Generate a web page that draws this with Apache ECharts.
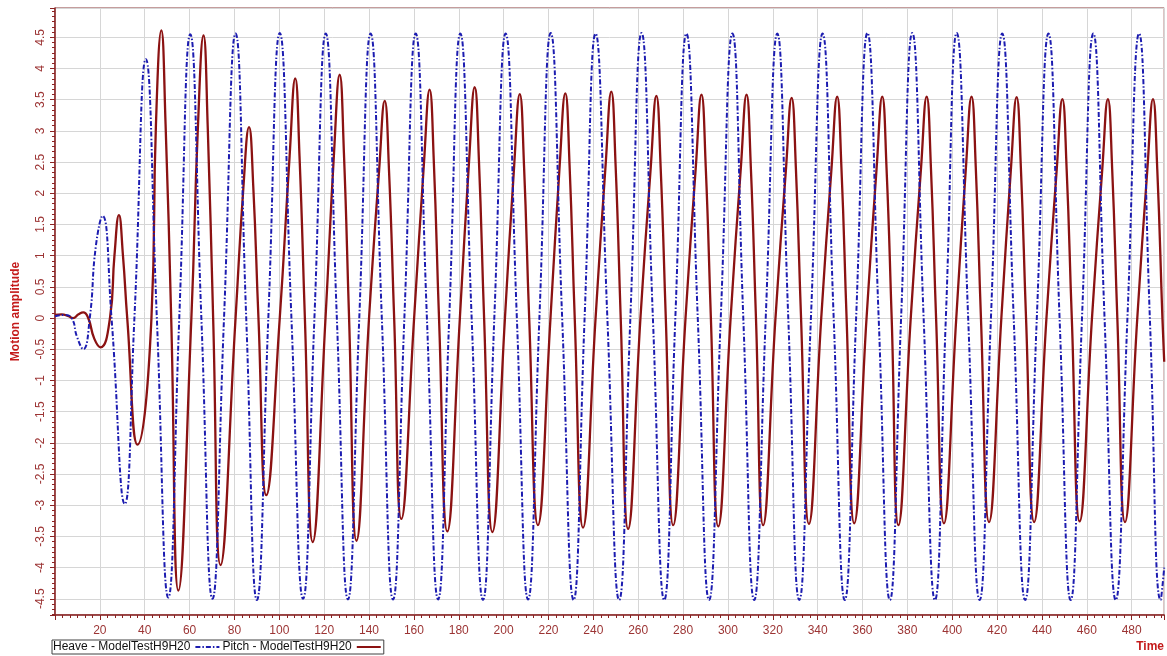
<!DOCTYPE html>
<html>
<head>
<meta charset="utf-8">
<script src="https://cdn.jsdelivr.net/npm/echarts@6/dist/echarts.min.js"></script>
<style>
html,body{margin:0;padding:0;background:#fff;}
#chart{width:1167px;height:656px;}
</style>
</head>
<body>
<div id="chart"></div>
<script>
// Series names
var seriesNames = ['Heave - ModelTestH9H20', 'Pitch - ModelTestH9H20'];

// Heave (blue, dash-dot): [time, amplitude]
var heaveData = [
  [0, 0.03], [4, 0.05], [7.4, 0.0], [9.8, -0.3], [12.6, -0.5], [15.5, 0], [18.2, 1.15], [21.2, 1.64],
  [25.2, 0], [31.1, -2.98], [35.4, 0], [40.5, 4.15], [45.4, 0], [50.5, -4.48], [55.4, 0],
  [60.3, 4.55], [65.25, 0], [70.2, -4.5], [75.35, 0], [80.5, 4.56], [85.25, 0], [90.0, -4.52], [95.1, 0],
  [100.2, 4.57], [105.4, 0], [110.6, -4.5], [115.65, 0], [120.7, 4.56], [125.65, 0], [130.6, -4.51], [135.65, 0],
  [140.7, 4.56], [145.7, 0], [150.7, -4.51], [155.75, 0], [160.8, 4.56], [165.8, 0], [170.8, -4.51], [175.75, 0],
  [180.7, 4.56], [185.75, 0], [190.8, -4.52], [195.85, 0], [200.9, 4.56], [205.9, 0], [210.9, -4.51], [215.95, 0],
  [221.0, 4.57], [226.1, 0], [231.2, -4.52], [236.1, 0], [241.0, 4.56], [246.25, 0], [251.5, -4.52], [256.5, 0],
  [261.5, 4.57], [266.55, 0], [271.6, -4.52], [276.55, 0], [281.5, 4.56], [286.55, 0], [291.6, -4.52], [296.8, 0],
  [302.0, 4.56], [306.85, 0], [311.7, -4.52], [316.85, 0], [322.0, 4.56], [326.9, 0], [331.8, -4.52], [337.0, 0],
  [342.2, 4.56], [347.15, 0], [352.1, -4.52], [357.15, 0], [362.2, 4.57], [367.2, 0], [372.2, -4.52], [377.2, 0],
  [382.2, 4.57], [387.25, 0], [392.3, -4.52], [397.15, 0], [402.0, 4.57], [407.1, 0], [412.2, -4.52], [417.25, 0],
  [422.3, 4.56], [427.4, 0], [432.5, -4.52], [437.7, 0], [442.9, 4.56], [447.85, 0], [452.8, -4.52], [457.85, 0],
  [462.9, 4.56], [467.9, 0], [472.9, -4.52], [478.1, 0], [483.3, 4.56], [488.1, 0], [492.9, -4.52], [494.5, -4.0]
];

// Pitch (dark red, solid): [time, amplitude]
var pitchData = [
  [0, 0.05], [3, 0.06], [6, 0.03], [8, 0.0], [10.5, 0.06], [12.6, 0.09], [14.8, 0.0], [17.5, -0.33],
  [20.3, -0.47], [24.5, 0.0], [26.5, 1.0], [28.5, 1.65], [30.3, 1.0], [32.2, 0.0],
  [36.8, -2.03], [43.0, 0], [45.0, 3.1], [47.4, 4.61], [49.3, 3.1], [51.8, 0], [55.0, -4.37],
  [60.8, 0], [63.7, 3.05], [66.2, 4.53], [68.1, 3.05], [70.5, 0], [73.8, -3.96],
  [80.5, 0], [84.0, 2.1], [86.5, 3.06], [88.4, 2.1], [90.7, 0], [94.2, -2.84], [100.2, 0],
  [104.6, 2.6], [107.1, 3.84], [109.0, 2.6], [111.4, 0], [114.9, -3.59], [120.6, 0],
  [124.4, 2.65], [126.9, 3.9], [128.8, 2.65], [131.1, 0], [134.4, -3.57], [140.0, 0],
  [144.5, 2.37], [147.0, 3.48], [148.9, 2.37], [151.2, 0], [154.4, -3.22], [160.1, 0],
  [164.5, 2.49], [167.0, 3.66], [168.9, 2.49], [171.2, 0], [174.9, -3.42], [180.5, 0],
  [184.6, 2.52], [187.1, 3.70], [189.0, 2.52], [191.3, 0], [195.0, -3.43], [200.6, 0],
  [204.7, 2.44], [207.2, 3.59], [209.1, 2.44], [211.4, 0], [215.3, -3.32], [220.9, 0],
  [225.0, 2.45], [227.5, 3.60], [229.4, 2.45], [231.7, 0], [235.4, -3.36], [241.0, 0],
  [245.5, 2.47], [248.0, 3.63], [249.9, 2.47], [252.2, 0], [255.5, -3.38], [261.0, 0],
  [265.6, 2.42], [268.1, 3.56], [270.0, 2.42], [272.3, 0], [275.6, -3.32], [281.1, 0],
  [285.7, 2.43], [288.2, 3.58], [290.1, 2.43], [292.4, 0], [295.7, -3.34], [301.2, 0],
  [305.8, 2.43], [308.3, 3.58], [310.2, 2.43], [312.5, 0], [315.7, -3.32], [321.2, 0],
  [325.9, 2.40], [328.4, 3.53], [330.3, 2.40], [332.6, 0], [336.1, -3.30], [341.6, 0],
  [346.2, 2.41], [348.7, 3.55], [350.6, 2.41], [352.9, 0], [356.3, -3.29], [361.8, 0],
  [366.3, 2.41], [368.8, 3.55], [370.7, 2.41], [373.0, 0], [376.0, -3.32], [381.5, 0],
  [386.1, 2.41], [388.6, 3.55], [390.5, 2.41], [392.8, 0], [396.3, -3.29], [401.8, 0],
  [406.1, 2.41], [408.6, 3.55], [410.5, 2.41], [412.8, 0], [416.4, -3.27], [421.9, 0],
  [426.2, 2.41], [428.7, 3.54], [430.6, 2.41], [432.9, 0], [436.5, -3.27], [442.0, 0],
  [446.6, 2.39], [449.1, 3.51], [451.0, 2.39], [453.3, 0], [456.8, -3.26], [462.3, 0],
  [466.9, 2.39], [469.4, 3.51], [471.3, 2.39], [473.6, 0], [477.0, -3.27], [482.5, 0],
  [487.0, 2.39], [489.5, 3.51], [491.4, 2.39], [493.7, 0], [494.5, -0.7]
];

var FONT = "'Liberation Sans', Arial, sans-serif";
var axisRed = '#8b2323';
var labelRed = '#9c3434';
var nameRed = '#c41a1a';

var chart = echarts.init(document.getElementById('chart'), null, {renderer: 'canvas'});
chart.setOption({
  animation: false,
  backgroundColor: '#ffffff',
  grid: {
    left: 55, top: 8, right: 2, bottom: 41,
    show: true, borderColor: '#8b3a3a', borderWidth: 1, backgroundColor: '#ffffff'
  },
  legend: {
    data: seriesNames,
    left: 52, top: 640,
    orient: 'horizontal',
    align: 'right',
    itemWidth: 24, itemHeight: 10, itemGap: 2,
    padding: [1, 2, 1, 1],
    borderColor: '#404040', borderWidth: 1, backgroundColor: '#ffffff',
    itemStyle: {opacity: 0},
    textStyle: {color: '#111111', fontSize: 12, fontFamily: FONT}
  },
  xAxis: {
    type: 'value',
    min: 0, max: 494.5, interval: 20,
    name: 'Time',
    nameLocation: 'end',
    nameGap: -28,
    nameTextStyle: {color: nameRed, fontWeight: 'bold', fontSize: 12, fontFamily: FONT, verticalAlign: 'top', padding: [26, 0, 0, 0]},
    axisLine: {show: true, onZero: false, lineStyle: {color: axisRed, width: 1.5}},
    axisTick: {show: true, length: 5, lineStyle: {color: axisRed}},
    minorTick: {show: true, splitNumber: 6, length: 3, lineStyle: {color: axisRed}},
    axisLabel: {color: labelRed, fontSize: 12, fontFamily: FONT, margin: 10, showMinLabel: false, showMaxLabel: false},
    splitLine: {show: true, lineStyle: {color: '#d6d6d6', width: 1}}
  },
  yAxis: {
    type: 'value',
    min: -4.76, max: 4.97, splitNumber: 20,
    name: 'Motion amplitude',
    nameLocation: 'middle',
    nameRotate: 90,
    nameGap: 33,
    nameTextStyle: {color: nameRed, fontWeight: 'bold', fontSize: 12, fontFamily: FONT},
    axisLine: {show: true, onZero: false, lineStyle: {color: axisRed, width: 1.5}},
    axisTick: {show: true, length: 5, lineStyle: {color: axisRed}},
    minorTick: {show: true, splitNumber: 6, length: 3, lineStyle: {color: axisRed}},
    axisLabel: {color: labelRed, fontSize: 12, fontFamily: FONT, rotate: 90, margin: 8, showMinLabel: false, showMaxLabel: false},
    splitLine: {show: true, lineStyle: {color: '#d6d6d6', width: 1}}
  },
  series: [
    {
      name: seriesNames[0],
      type: 'line',
      data: heaveData,
      symbol: 'none',
      smooth: 0.5,
      z: 3,
      lineStyle: {color: '#1c1cb0', width: 2, type: [5, 2, 1.5, 2]},
      itemStyle: {color: '#1c1cb0'}
    },
    {
      name: seriesNames[1],
      type: 'line',
      data: pitchData,
      symbol: 'none',
      smooth: 0.5,
      z: 2,
      lineStyle: {color: '#8b1212', width: 2.3},
      itemStyle: {color: '#8b1212'}
    }
  ]
});
</script>
</body>
</html>
